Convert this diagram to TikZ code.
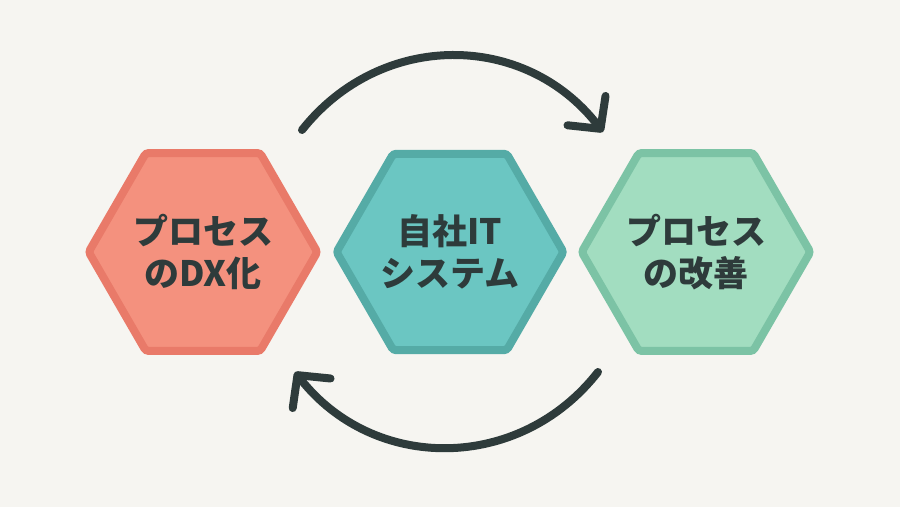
\documentclass[tikz,border=0pt]{standalone}
\usepackage{fontspec}
\newfontfamily\jpfont{Noto Sans CJK JP}
\usetikzlibrary{arrows.meta,shapes.geometric}
\definecolor{paper}{HTML}{F6F5F1}
\definecolor{ink}{HTML}{2E3B3B}
\definecolor{coralfill}{HTML}{F4917E}
\definecolor{coraledge}{HTML}{E97A69}
\definecolor{tealfill}{HTML}{6BC6C2}
\definecolor{tealedge}{HTML}{55ABA6}
\definecolor{mintfill}{HTML}{A2DDC0}
\definecolor{mintedge}{HTML}{7CC3A5}

\begin{document}
\begin{tikzpicture}[x=1pt,y=1pt,>={Straight Barb[length=23pt,width=48pt,round]},
      hex node/.style={regular polygon,regular polygon sides=6,minimum size=224pt,
        inner sep=0pt,line width=8pt,rounded corners=3pt,align=center,text=ink,
        font=\jpfont\bfseries\fontsize{35}{42}\selectfont},
      cycle arrow/.style={draw=ink,line width=8pt,line cap=round,->}]
    \fill[paper] (0,0) rectangle (900,507);
    \node[hex node,fill=coralfill,draw=coraledge] (DX) at (203,255) {プロセス\\のDX化};
    \node[hex node,fill=tealfill,draw=tealedge] (IT) at (450,255) {自社IT\\システム};
    \node[hex node,fill=mintfill,draw=mintedge] (KZ) at (696,255) {プロセス\\の改善};
    \coordinate (topL) at (302,377);
    \coordinate (topR) at (603,375);
    \coordinate (botR) at (598,135);
    \coordinate (botL) at (295,135);
    \draw[cycle arrow] (topL) to[bend left=52,looseness=1.08] (topR);
    \draw[cycle arrow] (botR) to[bend left=52,looseness=1.08] (botL);
\end{tikzpicture}
\end{document}
